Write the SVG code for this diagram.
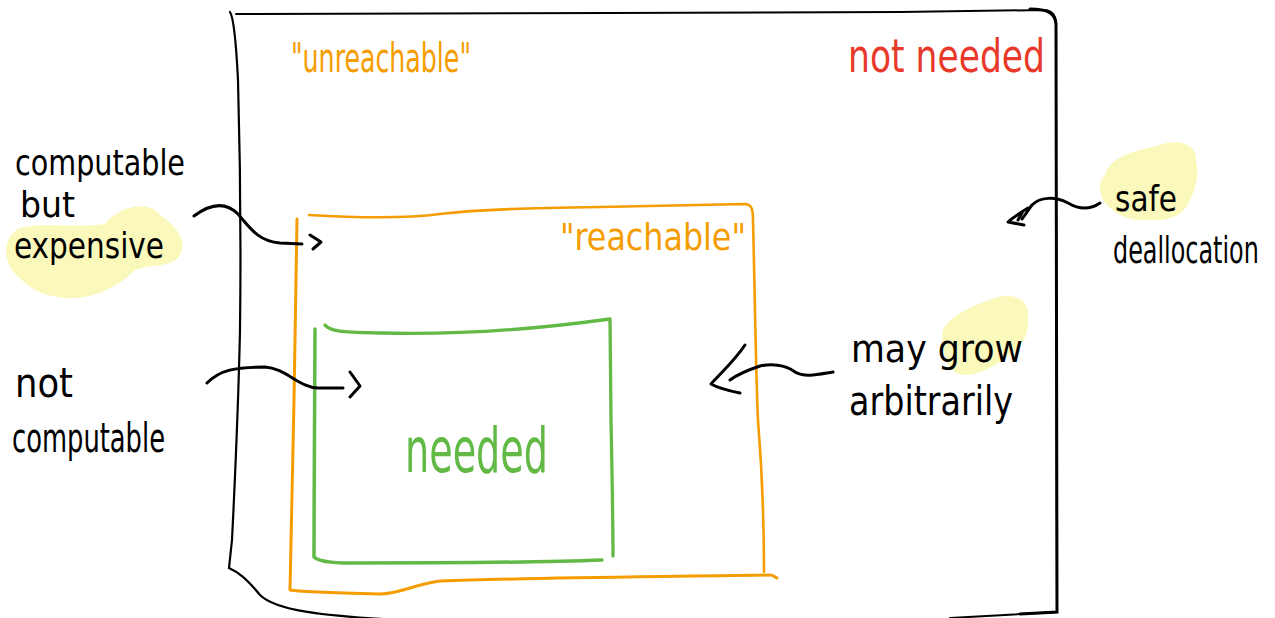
<svg xmlns="http://www.w3.org/2000/svg" width="1275" height="618" viewBox="0 0 1275 618">
  <style>
    .hand { font-family: "Liberation Sans Narrow", "DejaVu Sans Condensed", "Liberation Sans", sans-serif; }
    .ink { fill: #000000; }
    .orange { fill: #f59d00; }
    .red { fill: #e8392a; }
    .green { fill: #62b946; }
    .wire { fill: none; stroke: #000000; stroke-width: 3; stroke-linecap: round; stroke-linejoin: round; }
    .hl { fill: #f7f48c; opacity: 0.6; }
  </style>
  <rect width="1275" height="618" fill="#ffffff"/>

  <!-- highlighter blobs behind the marked words -->
  <g id="highlights">
    <path class="hl" d="M20 228 C 40 222 80 228 105 224 C 120 205 150 200 160 215 C 175 225 188 240 180 255 C 172 268 150 264 135 270 C 120 285 95 300 65 298 C 40 296 25 285 12 270 C 2 255 5 235 20 228 Z"/>
    <path class="hl" d="M1105 175 C 1110 155 1140 150 1160 145 C 1180 138 1198 145 1196 162 C 1200 175 1195 190 1190 200 C 1185 215 1168 222 1148 220 C 1128 222 1110 212 1102 198 C 1098 188 1100 180 1105 175 Z"/>
    <path class="hl" d="M943 330 C 950 315 975 305 995 298 C 1015 292 1030 300 1028 318 C 1030 335 1020 350 1005 358 C 990 370 968 380 955 372 C 945 365 940 345 943 330 Z"/>
  </g>

  <!-- outer region: not needed / unreachable -->
  <g id="outer-region">
    <path d="M230 12 C 234 18 236 40 238 80 C 240 150 241 250 240 330 C 238 420 234 500 232 540 L 229 568 C 238 572 246 578 260 595 C 275 610 320 616 400 620" fill="none" stroke="#000" stroke-width="2.2" stroke-linecap="round"/>
    <path d="M236 14 C 400 13 700 13 900 12 C 980 11 1030 10 1045 10 C 1052 11 1056 15 1056 24 L 1056 200 C 1056 350 1057 500 1057 612 L 1005 615 L 950 618" fill="none" stroke="#000" stroke-width="2" stroke-linecap="round" stroke-linejoin="round"/>
    <path d="M1030 9 C 1048 9 1055 13 1056 24 L 1057 612 L 1020 614" fill="none" stroke="#000" stroke-width="3" stroke-linecap="round"/>
    <text class="hand orange" x="291" y="72" font-size="40" textLength="180" lengthAdjust="spacingAndGlyphs">"unreachable"</text>
    <text class="hand red" x="848" y="72" font-size="46" textLength="197" lengthAdjust="spacingAndGlyphs">not needed</text>
  </g>

  <!-- middle region: reachable -->
  <g id="reachable-region">
    <path d="M297 219 C 296 260 295 330 294 400 C 293 470 291 540 290 590 C 300 592 340 593 380 594 C 400 594 415 584 440 581 C 520 578 650 577 770 575 C 774 575 776 578 777 578" fill="none" stroke="#f59d00" stroke-width="3" stroke-linecap="round" stroke-linejoin="round"/>
    <path d="M309 215 C 360 218 410 218 440 214 C 480 209 540 208 600 207 C 680 205 730 204 746 204 C 752 205 753 210 753 220 C 755 300 756 380 758 420 C 762 470 764 520 764 572" fill="none" stroke="#f59d00" stroke-width="2.6" stroke-linecap="round" stroke-linejoin="round"/>
    <text class="hand orange" x="560" y="250" font-size="38" textLength="186" lengthAdjust="spacingAndGlyphs">"reachable"</text>
  </g>

  <!-- inner region: needed -->
  <g id="needed-region">
    <path d="M315 329 C 315 400 314 480 314 557 C 318 561 330 563 350 563 C 450 563 550 562 602 560" fill="none" stroke="#62b946" stroke-width="3.5" stroke-linecap="round" stroke-linejoin="round"/>
    <path d="M325 325 C 330 332 345 332 380 333 C 450 335 530 330 610 319 L 611 420 C 612 470 613 520 613 556" fill="none" stroke="#62b946" stroke-width="3.3" stroke-linecap="round" stroke-linejoin="round"/>
    <text class="hand green" x="405" y="472" font-size="62" textLength="143" lengthAdjust="spacingAndGlyphs">needed</text>
  </g>

  <!-- side notes -->
  <g id="note-expensive">
    <text class="hand ink" x="15" y="175" font-size="36" textLength="170" lengthAdjust="spacingAndGlyphs">computable</text>
    <text class="hand ink" x="20" y="217" font-size="36" textLength="55" lengthAdjust="spacingAndGlyphs">but</text>
    <text class="hand ink" x="14" y="258" font-size="36" textLength="150" lengthAdjust="spacingAndGlyphs">expensive</text>
  </g>
  <g id="note-not-computable">
    <text class="hand ink" x="15" y="397" font-size="40" textLength="58" lengthAdjust="spacingAndGlyphs">not</text>
    <text class="hand ink" x="12" y="452" font-size="40" textLength="153" lengthAdjust="spacingAndGlyphs">computable</text>
  </g>
  <g id="note-safe">
    <text class="hand ink" x="1115" y="211" font-size="36" textLength="62" lengthAdjust="spacingAndGlyphs">safe</text>
    <text class="hand ink" transform="translate(1113 263) scale(0.6 1)" x="0" y="0" font-size="38" textLength="243" lengthAdjust="spacingAndGlyphs">deallocation</text>
  </g>
  <g id="note-grow">
    <text class="hand ink" x="851" y="362" font-size="38" textLength="172" lengthAdjust="spacingAndGlyphs">may grow</text>
    <text class="hand ink" x="849" y="415" font-size="40" textLength="164" lengthAdjust="spacingAndGlyphs">arbitrarily</text>
  </g>

  <!-- pointers from notes into the regions -->
  <g id="connectors">
    <path class="wire" d="M194 216 C 210 204 225 201 238 214 C 250 228 258 241 280 243 L 302 244"/>
    <path class="wire" d="M310 235 L 321 242 L 313 249"/>
    <path class="wire" d="M207 383 C 220 370 235 367 265 367 C 285 368 300 388 318 388 L 343 388"/>
    <path class="wire" d="M350 372 L 360 386 L 350 397"/>
    <path class="wire" d="M1100 203 C 1090 210 1080 210 1068 203 C 1055 196 1040 197 1032 205 C 1028 210 1026 214 1022 219"/>
    <path class="wire" d="M1028 208 C 1020 213 1012 218 1008 222 L 1024 225"/>
    <path class="wire" d="M1022 213 L 1018 220"/>
    <path class="wire" d="M833 372 C 820 374 805 378 795 372 C 785 364 770 364 760 366 C 748 370 738 374 730 380"/>
    <path class="wire" d="M745 345 C 735 360 722 372 711 384 C 718 388 730 391 740 393"/>
  </g>
</svg>
